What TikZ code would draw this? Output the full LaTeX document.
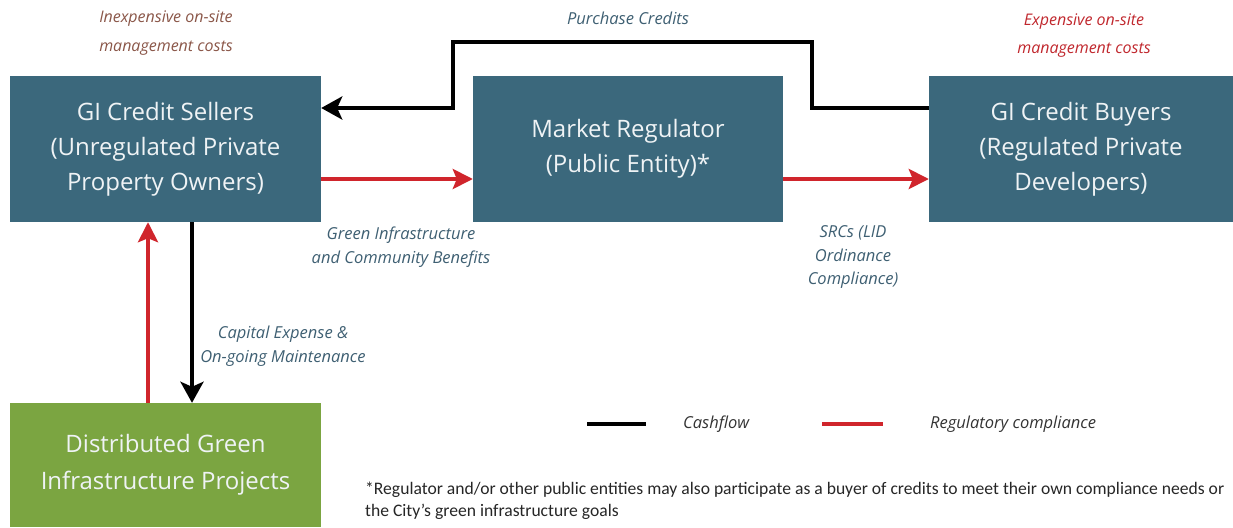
\documentclass[tikz,border=0pt]{standalone}
\usepackage{fontspec}
\setmainfont{Open Sans}
\newfontfamily\notefont{Carlito}
\usetikzlibrary{arrows.meta}

\definecolor{boxblue}{HTML}{3B687C}
\definecolor{boxgreen}{HTML}{7BA541}
\definecolor{labelblue}{HTML}{3E5F72}
\definecolor{costbrown}{HTML}{8A5648}
\definecolor{costred}{HTML}{C0272D}
\definecolor{flowred}{HTML}{D0252C}

\tikzset{
  party/.style={fill=boxblue, text=white!92!boxblue, align=center, inner sep=0pt,
    minimum height=146pt, font=\fontsize{24}{35}\selectfont},
  flowlabel/.style={text=labelblue, align=center, inner sep=0pt,
    font=\fontsize{16.5}{23.5}\selectfont\itshape},
  cash/.style={line width=4.5pt, black, -{Stealth[length=21pt,width=23pt,inset=5pt]}},
  comply/.style={line width=4.5pt, flowred, -{Stealth[length=20pt,width=20pt,inset=4pt]}}
}

\begin{document}
\begin{tikzpicture}[x=1pt,y=-1pt]
\useasboundingbox (0,0) rectangle (1233,527);

% the three parties
\node[party, minimum width=311pt] (sellers) at (165.5,149)
  {GI Credit Sellers\\(Unregulated Private\\Property Owners)};
\node[party, minimum width=310pt] (market) at (628,149)
  {Market Regulator\\(Public Entity)*};
\node[party, minimum width=304pt] (buyers) at (1081,149)
  {GI Credit Buyers\\(Regulated Private\\Developers)};
\node[party, fill=boxgreen, minimum width=311pt, minimum height=124pt,
  font=\fontsize{24}{37}\selectfont] (projects) at (165.5,465)
  {Distributed Green\\Infrastructure Projects};

% cost notes
\node[flowlabel, text=costbrown, font=\fontsize{16}{29}\selectfont\itshape] (cheap) at (166,33)
  {Inexpensive on-site\\management costs};
\node[flowlabel, text=costred, font=\fontsize{16}{28}\selectfont\itshape] (dear) at (1084,36)
  {Expensive on-site\\management costs};

% cashflow
\draw[cash] (buyers.west |- 0,108) -- (812,108) -- (812,42) -- (453,42) -- (453,108)
  -- (sellers.east |- 0,108);
\node[flowlabel] (purchase) at (628,18) {Purchase Credits};
\draw[cash] (sellers.south -| 192,0) -- (projects.north -| 192,0);
\node[flowlabel] (capital) at (283,346) {Capital Expense \&\\On-going Maintenance};

% regulatory compliance
\draw[comply] (sellers.east |- 0,179) -- (market.west |- 0,179);
\draw[comply] (market.east |- 0,179) -- (buyers.west |- 0,179);
\draw[comply] (projects.north -| 148,0) -- (sellers.south -| 148,0);
\node[flowlabel] (benefits) at (401,247) {Green Infrastructure\\and Community Benefits};
\node[flowlabel] (srcs) at (853,257) {SRCs (LID\\Ordinance\\Compliance)};

% legend
\coordinate (cashA) at (587,424);
\coordinate (cashB) at (646,424);
\coordinate (compA) at (822,424);
\coordinate (compB) at (883,424);
\draw[line width=4.5pt] (cashA) -- (cashB);
\draw[line width=4.5pt, flowred] (compA) -- (compB);
\node[flowlabel, text=black!80, anchor=west] (cashtext) at (683,424) {Cashflow};
\node[flowlabel, text=black!80, anchor=west] (comptext) at (930,424) {Regulatory compliance};

% footnote
\node[anchor=north west, align=left, inner sep=0pt, text=black!85,
  font=\notefont\fontsize{17.6}{22}\selectfont] (note) at (365,482)
  {*Regulator and/or other public entities may also participate as a buyer of credits to meet their own compliance needs or\\
   the City’s green infrastructure goals};
\end{tikzpicture}
\end{document}
